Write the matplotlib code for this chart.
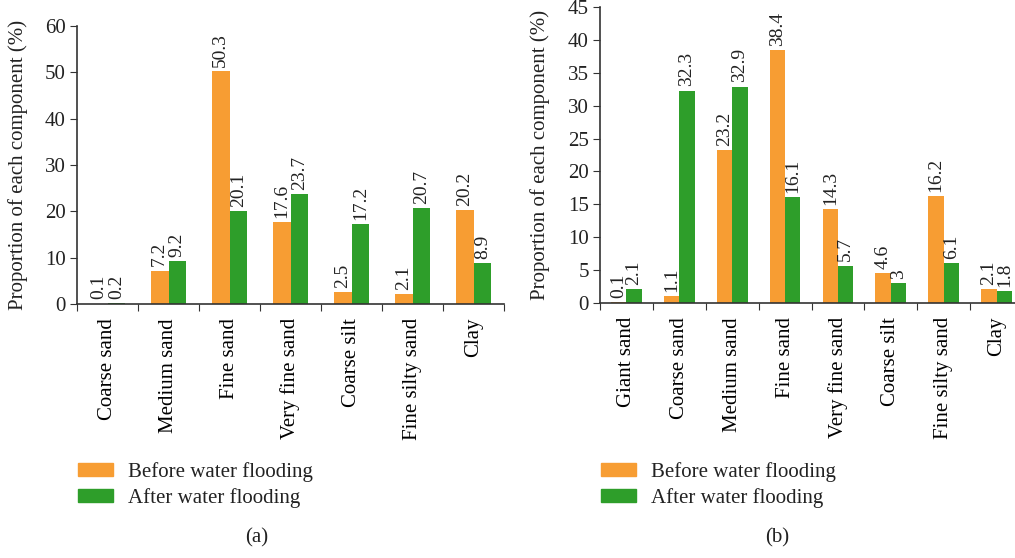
import matplotlib
matplotlib.use("Agg")
import matplotlib.pyplot as plt
from matplotlib.patches import Patch
import numpy as np

plt.rcParams["font.family"] = ["Liberation Serif", "DejaVu Serif"]
plt.rcParams["font.size"] = 15

# Panel (a)
cats_a = ["Coarse sand", "Medium sand", "Fine sand", "Very fine sand",
          "Coarse silt", "Fine silty sand", "Clay"]
before_a = [0.1, 7.2, 50.3, 17.6, 2.5, 2.1, 20.2]
after_a = [0.2, 9.2, 20.1, 23.7, 17.2, 20.7, 8.9]
labels_before_a = ["0.1", "7.2", "50.3", "17.6", "2.5", "2.1", "20.2"]
labels_after_a = ["0.2", "9.2", "20.1", "23.7", "17.2", "20.7", "8.9"]

# Panel (b)
cats_b = ["Giant sand", "Coarse sand", "Medium sand", "Fine sand",
          "Very fine sand", "Coarse silt", "Fine silty sand", "Clay"]
before_b = [0.1, 1.1, 23.2, 38.4, 14.3, 4.6, 16.2, 2.1]
after_b = [2.1, 32.3, 32.9, 16.1, 5.7, 3, 6.1, 1.8]
labels_before_b = ["0.1", "1.1", "23.2", "38.4", "14.3", "4.6", "16.2", "2.1"]
labels_after_b = ["2.1", "32.3", "32.9", "16.1", "5.7", "3", "6.1", "1.8"]

ORANGE = "#F79D33"
GREEN = "#2E9E2A"
W, H = 1015, 558


def draw_panel(ax, cats, before, after, lb, la, ymax, ystep):
    n = len(cats)
    x = np.arange(n) + 0.5
    bw = 0.29
    b1 = ax.bar(x - bw / 2, before, bw, color=ORANGE)
    b2 = ax.bar(x + bw / 2, after, bw, color=GREEN)
    for bars, labs in ((b1, lb), (b2, la)):
        for rect, txt in zip(bars, labs):
            ax.annotate(txt, (rect.get_x() + rect.get_width() / 2, rect.get_height()),
                        xytext=(0, 3), textcoords="offset points",
                        ha="center", va="bottom", rotation=90,
                        fontsize=14, color="#222222")
    ax.set_xlim(0, n)
    ax.set_ylim(0, ymax)
    ax.set_yticks(np.arange(0, ymax + 0.1, ystep))
    ax.set_xticks(np.arange(n + 1))
    ax.set_xticklabels([])
    ax.set_xticks(x, minor=True)
    ax.set_xticklabels(cats, minor=True, rotation=90, va="top")
    ax.tick_params(axis="x", which="minor", length=0, pad=10)
    ax.tick_params(axis="x", which="major", length=5, direction="out")
    ax.tick_params(axis="y", length=5, direction="out", pad=3)
    for s in ("top", "right"):
        ax.spines[s].set_visible(False)
    for s in ("left", "bottom"):
        ax.spines[s].set_color("#333333")
        ax.spines[s].set_linewidth(1.2)
    ax.tick_params(colors="#333333", labelcolor="#222222")
    ax.set_ylabel("Proportion of each component (%)", color="#222222")


fig = plt.figure(figsize=(W / 100, H / 100), dpi=100)

ax_a = fig.add_axes([77 / W, (H - 304) / H, (504 - 77) / W, (304 - 26) / H])
draw_panel(ax_a, cats_a, before_a, after_a, labels_before_a, labels_after_a, 60, 10)
ax_a.yaxis.set_label_coords(-0.115, 0.5)

ax_b = fig.add_axes([600 / W, (H - 303) / H, (1023 - 600) / W, (303 - 7) / H])
draw_panel(ax_b, cats_b, before_b, after_b, labels_before_b, labels_after_b, 45, 5)
ax_b.yaxis.set_label_coords(-0.118, 0.5)

handles = [Patch(color=ORANGE, label="Before water flooding"),
           Patch(color=GREEN, label="After water flooding")]
for lx in (78, 601):
    fig.legend(handles=handles, loc="upper left",
               bbox_to_anchor=(lx / W, 1 - 462 / H), frameon=False,
               borderpad=0, borderaxespad=0, handlelength=1.7,
               handleheight=0.62, handletextpad=0.7, labelspacing=0.3,
               labelcolor="#222222")

fig.text(257 / W, 1 - 538 / H, "(a)", ha="center", va="center", color="#222222")
fig.text(777 / W, 1 - 538 / H, "(b)", ha="center", va="center", color="#222222")

fig.savefig("out.png", dpi=100)
